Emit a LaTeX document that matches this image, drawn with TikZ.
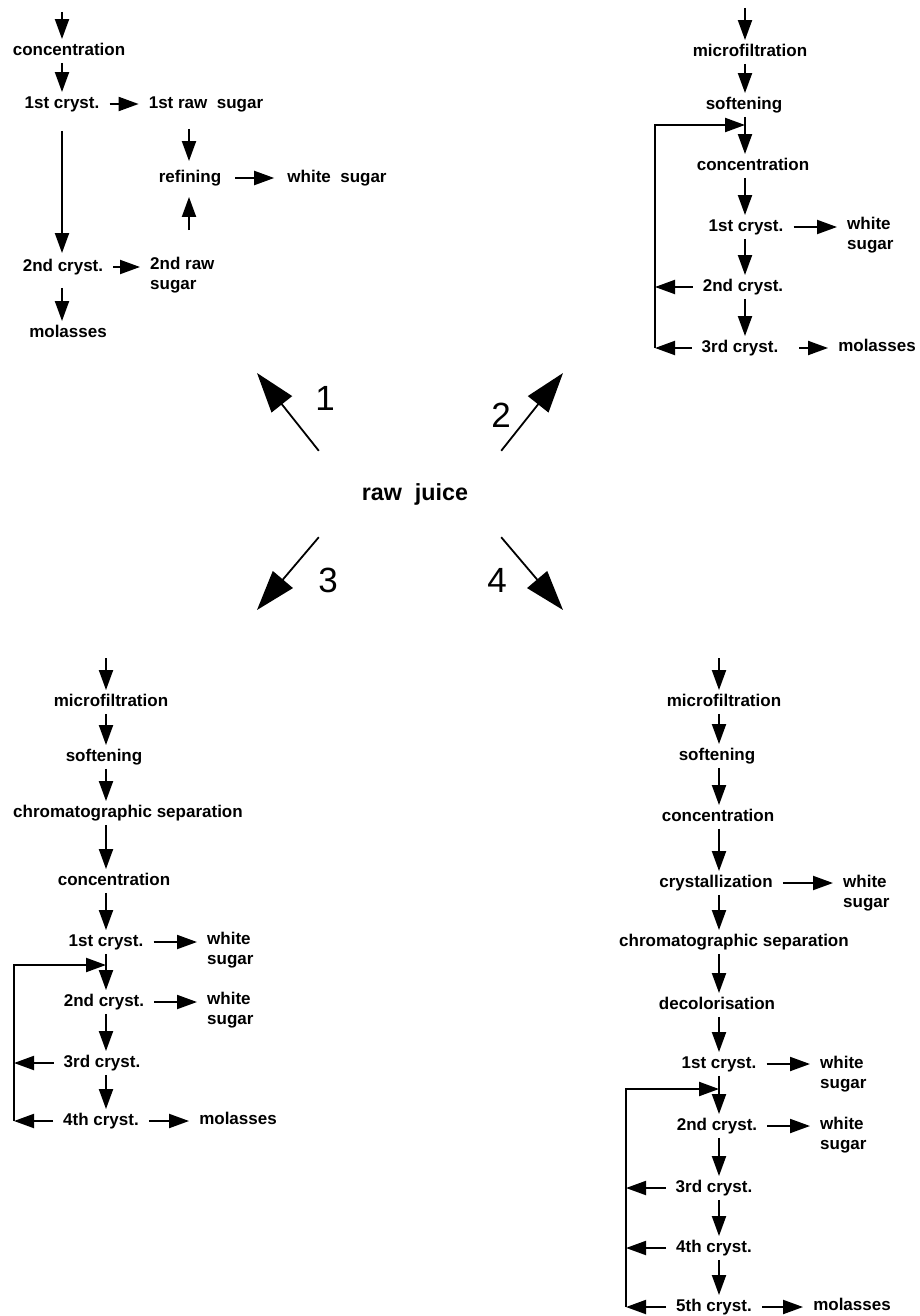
\documentclass[tikz,border=0pt]{standalone}
\usepackage{fontspec}
\setmainfont{Liberation Sans}
\usetikzlibrary{arrows.meta}

\begin{document}
\begin{tikzpicture}
  [x=1pt,y=-1pt,
   txt/.style={font=\bfseries\fontsize{17}{19.5}\selectfont,inner xsep=2pt,inner ysep=1pt},
   lbl/.style={txt,text height=12pt,text depth=3.5pt},
   two/.style={txt,align=left,anchor=west},
   arr/.style={line width=2pt,-{Triangle[length=20pt,width=14pt]}},
   down/.style={arr,shorten <=3pt,shorten >=3pt},
   fwd/.style={arr,shorten <=8pt,shorten >=8pt},
   back/.style={arr,shorten <=8pt},
   ret/.style={line width=2.2pt,-{Triangle[length=20pt,width=14pt]}},
   big/.style={line width=1.8pt,-{Triangle[length=40pt,width=26pt]}},
   num/.style={font=\fontsize{35}{40}\selectfont,inner sep=0pt}]
  \useasboundingbox (0,0) rectangle (919,1316);

  % centre
  \node[font=\bfseries\fontsize{23.3}{28}\selectfont,minimum width=182pt,minimum height=86pt,inner sep=0pt] (rj) at (410,494) {\hspace*{10pt}raw\ \ juice};
  \coordinate (h1) at (257,373);
  \coordinate (h2) at (563,373);
  \coordinate (h3) at (257,610);
  \coordinate (h4) at (563,610);
  \node[num] (n1) at (325,398) {1};
  \node[num] (n2) at (501,415) {2};
  \node[num] (n3) at (328,580) {3};
  \node[num] (n4) at (497,580) {4};

  \draw[big] (rj.north west) -- (h1);
  \draw[big] (rj.north east) -- (h2);
  \draw[big] (rj.south west) -- (h3);
  \draw[big] (rj.south east) -- (h4);

  % way 1
  \coordinate (a0) at (62,12);
  \coordinate (ax) at (62,0);
  \coordinate (ay) at (189,0);
  \node[lbl] (a1) at (69,51)   {concentration};
  \node[lbl] (a2) at (62,104)  {1st cryst.};
  \node[lbl] (a3) at (206,104) {1st raw\ \ sugar};
  \node[lbl] (a4) at (190,178) {refining};
  \node[lbl] (a5) at (337,178) {white\ \ sugar};
  \node[lbl] (a6) at (63,267)  {2nd cryst.};
  \node[two] (a7) at (148,275) {2nd raw\\sugar};
  \node[lbl] (a8) at (68,333)  {molasses};

  \draw[arr,shorten >=3pt] (a0) -- (a1.north -| a0);
  \draw[down] (a1.south -| ax) -- (a2.north -| ax);
  \draw[arr,shorten <=18pt,shorten >=5pt] (a2.south -| ax) -- (a6.north -| ax);
  \draw[arr,shorten <=12pt,shorten >=3pt] (a6.south -| ax) -- (a8.north -| ax);
  \draw[fwd] (a2.east) -- (a3.west);
  \draw[fwd] (a6.east) -- (a7.west |- a6);
  \draw[arr,shorten <=16pt,shorten >=8pt] (a3.south -| ay) -- (a4.north -| ay);
  \draw[arr,shorten <=26pt,shorten >=10pt] (a7.north -| ay) -- (a4.south -| ay);
  \draw[fwd,shorten <=12pt,shorten >=11pt] (a4.east) -- (a5.west);

  % way 2
  \coordinate (b0) at (745,8);
  \coordinate (bx) at (745,0);
  \coordinate (bk) at (655,125);
  \node[lbl] (b1) at (750,52)  {microfiltration};
  \node[lbl] (b2) at (744,105) {softening};
  \node[lbl] (b3) at (753,166) {concentration};
  \node[lbl] (b4) at (746,227) {1st cryst.};
  \node[two] (b5) at (845,235) {white\\sugar};
  \node[lbl] (b6) at (743,287) {2nd cryst.};
  \node[lbl] (b7) at (740,348) {3rd cryst.};
  \node[lbl] (b8) at (877,347) {molasses};

  \draw[arr,shorten >=3pt] (b0) -- (b1.north -| b0);
  \foreach \from/\to in {b1/b2,b2/b3,b3/b4,b4/b6,b6/b7}
    \draw[down] (\from.south -| bx) -- (\to.north -| bx);
  \draw[fwd] (b4.east) -- (b5.west |- b4);
  \draw[fwd,shorten <=19pt] (b7.east) -- (b8.west |- b7);
  \draw[back] (b6.west) -- (b6 -| bk);
  \draw[back] (b7.west) -- (b7 -| bk);
  \draw[ret] (b7 -| bk) -- (bk) -- (bk -| bx);

  % way 3
  \coordinate (c0) at (106,658);
  \coordinate (cx) at (106,0);
  \coordinate (ck) at (14,965);
  \node[lbl] (c1) at (111,702)  {microfiltration};
  \node[lbl] (c2) at (104,757)  {softening};
  \node[lbl] (c3) at (128,813)  {chromatographic separation};
  \node[lbl] (c4) at (114,881)  {concentration};
  \node[lbl] (c5) at (106,942)  {1st cryst.};
  \node[two] (c6) at (205,950)  {white\\sugar};
  \node[lbl] (c7) at (104,1002) {2nd cryst.};
  \node[two] (c8) at (205,1010) {white\\sugar};
  \node[lbl] (c9) at (102,1063) {3rd cryst.};
  \node[lbl] (c10) at (101,1121) {4th cryst.};
  \node[lbl] (c11) at (238,1120) {molasses};

  \draw[arr,shorten >=3pt] (c0) -- (c1.north -| c0);
  \foreach \from/\to in {c1/c2,c2/c3,c3/c4,c4/c5,c5/c7,c7/c9,c9/c10}
    \draw[down] (\from.south -| cx) -- (\to.north -| cx);
  \draw[fwd] (c5.east) -- (c6.west |- c5);
  \draw[fwd] (c7.east) -- (c8.west |- c7);
  \draw[fwd] (c10.east) -- (c11.west |- c10);
  \draw[back] (c9.west) -- (c9 -| ck);
  \draw[back] (c10.west) -- (c10 -| ck);
  \draw[ret] (c10 -| ck) -- (ck) -- (ck -| cx);

  % way 4
  \coordinate (d0) at (719,658);
  \coordinate (dx) at (719,0);
  \coordinate (dk) at (626,1089);
  \node[lbl] (d1) at (724,702)  {microfiltration};
  \node[lbl] (d2) at (717,756)  {softening};
  \node[lbl] (d3) at (718,817)  {concentration};
  \node[lbl] (d4) at (716,883)  {crystallization};
  \node[two] (d5) at (841,893)  {white\\sugar};
  \node[lbl] (d6) at (734,942)  {chromatographic separation};
  \node[lbl] (d7) at (717,1005) {decolorisation};
  \node[lbl] (d8) at (719,1064) {1st cryst.};
  \node[two] (d9) at (818,1074) {white\\sugar};
  \node[lbl] (d10) at (717,1126) {2nd cryst.};
  \node[two] (d11) at (818,1135) {white\\sugar};
  \node[lbl] (d12) at (714,1188) {3rd cryst.};
  \node[lbl] (d13) at (714,1248) {4th cryst.};
  \node[lbl] (d14) at (714,1307) {5th cryst.};
  \node[lbl] (d15) at (852,1306) {molasses};

  \draw[arr,shorten >=3pt] (d0) -- (d1.north -| d0);
  \foreach \from/\to in {d1/d2,d2/d3,d3/d4,d4/d6,d6/d7,d7/d8,d8/d10,d10/d12,d12/d13,d13/d14}
    \draw[down] (\from.south -| dx) -- (\to.north -| dx);
  \draw[fwd] (d4.east) -- (d5.west |- d4);
  \draw[fwd] (d8.east) -- (d9.west |- d8);
  \draw[fwd] (d10.east) -- (d11.west |- d10);
  \draw[fwd] (d14.east) -- (d15.west |- d14);
  \draw[back] (d12.west) -- (d12 -| dk);
  \draw[back] (d13.west) -- (d13 -| dk);
  \draw[back] (d14.west) -- (d14 -| dk);
  \draw[ret] (d14 -| dk) -- (dk) -- (dk -| dx);

\end{tikzpicture}
\end{document}
